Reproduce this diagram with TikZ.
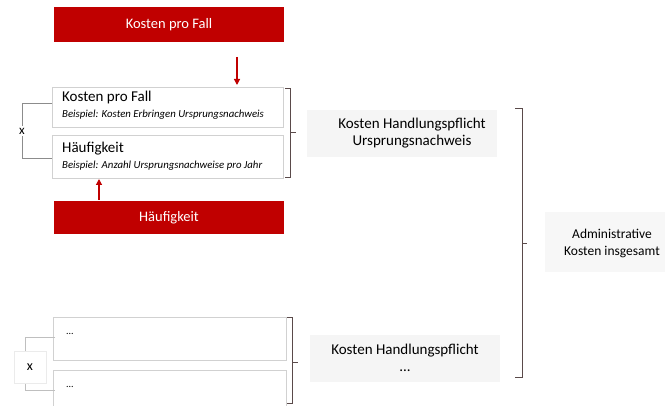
\documentclass[tikz,border=0pt]{standalone}
\usepackage{fontspec}
\setmainfont{Carlito}
\usetikzlibrary{arrows.meta}
\definecolor{kred}{HTML}{C00000}
\definecolor{brk}{HTML}{5A4A4A}
\tikzset{
  wbox/.style={draw=black!18,fill=white},
  graybox/.style={fill=black!4},
  brkline/.style={draw=brk,line width=0.8pt},
  xline/.style={draw=black!45,line width=0.8pt},
  redarrow/.style={draw=kred,line width=1.2pt,-{Triangle[length=6pt,width=6pt]}},
  redtext/.style={text=white,font=\fontsize{14.5}{16}\selectfont},
  title/.style={font=\fontsize{15}{17}\selectfont,anchor=west,inner sep=0pt},
  example/.style={font=\itshape\fontsize{10.8}{12}\selectfont,anchor=west,inner sep=0pt},
  midtext/.style={font=\fontsize{15}{17}\selectfont,align=center},
}
\begin{document}
\begin{tikzpicture}[x=1pt,y=-1pt]
\fill[white] (0,0) rectangle (669,406);
\useasboundingbox (0,0) rectangle (669,406);

% top red box
\fill[kred] (54,7) rectangle (284,42);
\node[redtext] (kpf) at (169,24.5) {Kosten pro Fall};
\coordinate (kpfarrow) at (237,57);

% boxes
\draw[wbox] (52,87) rectangle (283,127);
\coordinate (box1top) at (237,85);
\node[title] (t1) at (62,98) {Kosten pro Fall};
\node[example] (e1) at (62,115) {Beispiel: Kosten Erbringen Ursprungsnachweis};
\draw[wbox] (52,135) rectangle (283,178);
\coordinate (box2bot) at (99,179);
\node[title] (t2) at (62,149) {Häufigkeit};
\node[example] (e2) at (62,166) {Beispiel: Anzahl Ursprungsnachweise pro Jahr};

% bottom red box
\fill[kred] (54,201) rectangle (284,234);
\node[redtext] (hf) at (169,217.5) {Häufigkeit};
\coordinate (hfarrow) at (99,200);

\draw[redarrow] (kpfarrow) -- (box1top);
\draw[redarrow] (hfarrow) -- (box2bot);

% x bracket top
\draw[xline] (52,103) -- (22,103) -- (22,158) -- (52,158);
\node[fill=white,inner sep=2pt,font=\fontsize{13}{14}\selectfont] (x1) at (22,131) {x};

% bracket 1
\draw[brkline] (285,88) -- (290,88) -- (290,177) -- (285,177);
\draw[brkline] (290,132) -- (296,132);

% Kosten Handlungspflicht Ursprungsnachweis
\fill[graybox] (307,110) rectangle (497,157);
\node[midtext] (kh1) at (412,133) {Kosten Handlungspflicht\\Ursprungsnachweis};

% bottom section
\draw[wbox] (53,317) rectangle (286,360);
\node[example,font=\fontsize{10}{12}\selectfont] (d1) at (66,334) {...};
\draw[wbox] (53,370) rectangle (286,410);
\node[example,font=\fontsize{10}{12}\selectfont] (d2) at (66,387) {...};
\draw[xline,draw=black!25] (55,337) -- (25,337) -- (25,390) -- (55,390);
\node[draw=black!8,fill=white,minimum width=32pt,minimum height=32pt,font=\fontsize{14}{14}\selectfont] (x2) at (30,367) {x};

% bracket 2
\draw[brkline] (287,317) -- (292,317) -- (292,403) -- (287,403);
\draw[brkline] (292,362) -- (298,362);

\fill[graybox] (310,335) rectangle (500,382);
\node[midtext] (kh2) at (405,358) {Kosten Handlungspflicht\\...};

% big bracket
\draw[brkline] (515,108) -- (522,108) -- (522,377) -- (515,377);
\draw[brkline] (522,243) -- (527,243);

\fill[fill=black!3] (545,212) rectangle (665,272);
\node[midtext,font=\fontsize{13.5}{17}\selectfont] (adm) at (612,243) {Administrative\\Kosten insgesamt};
\end{tikzpicture}
\end{document}
